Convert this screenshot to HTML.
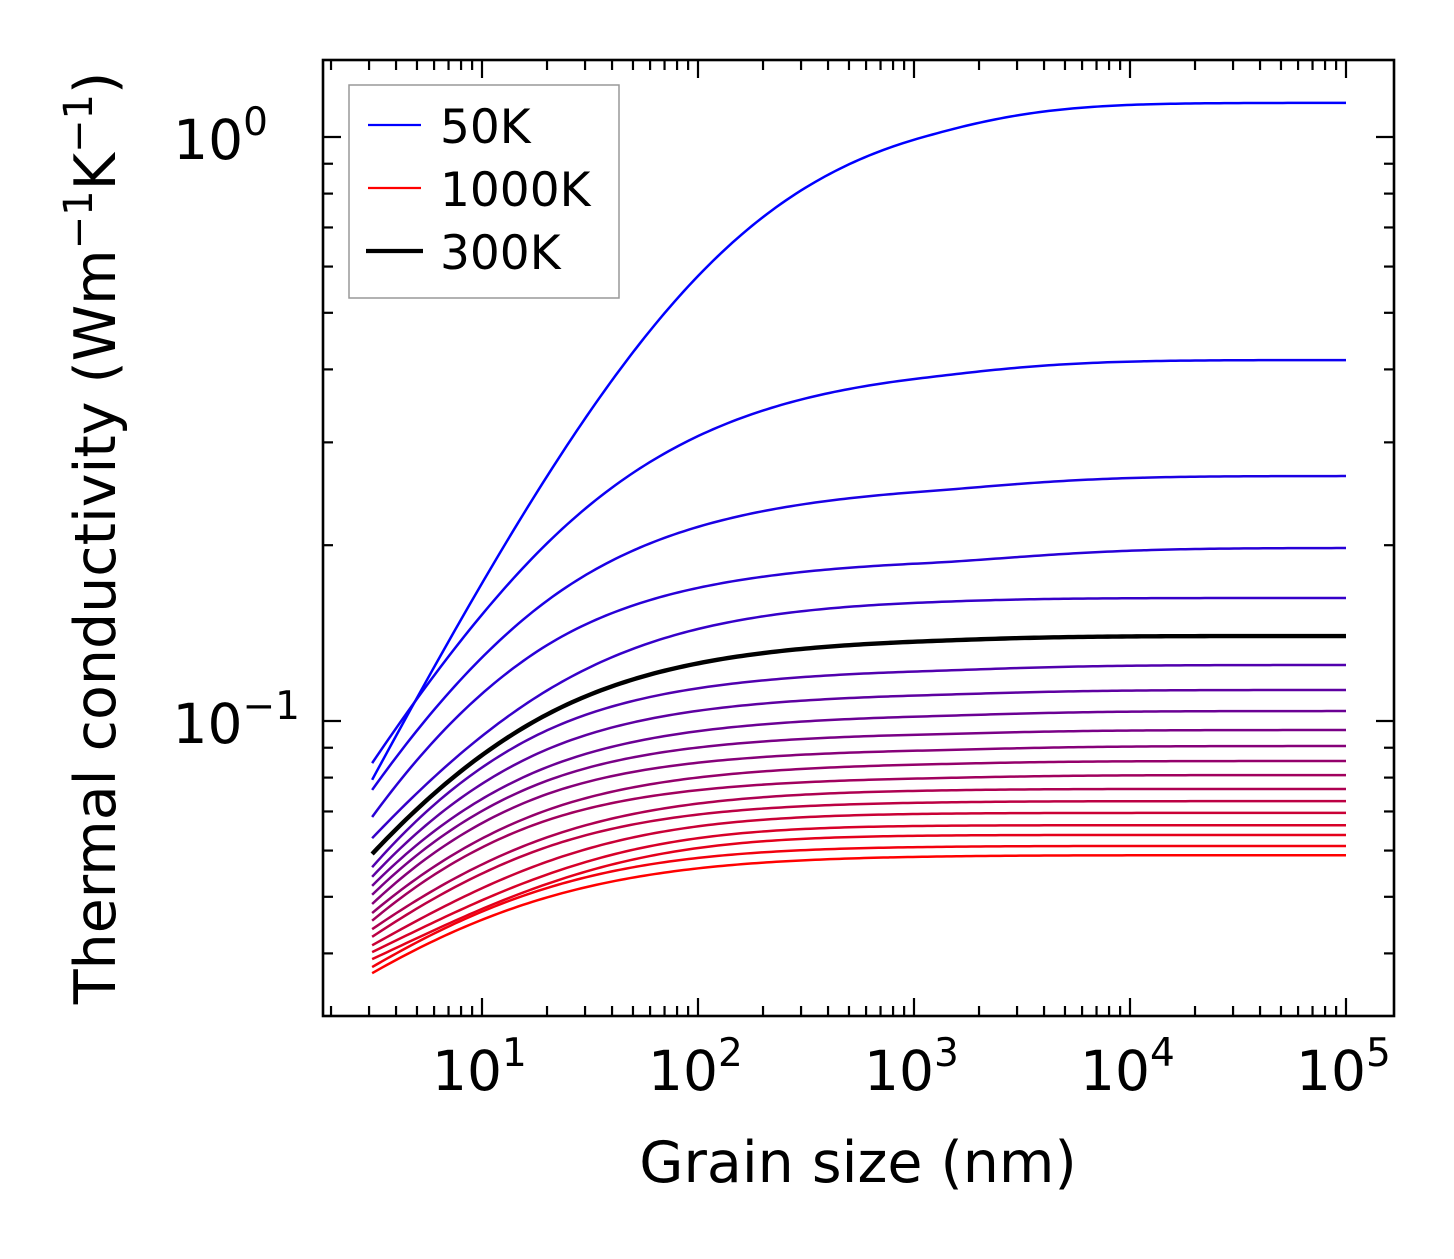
<!DOCTYPE html>
<html><head><meta charset="utf-8"><style>
body{margin:0;background:#fff}
svg text{font-family:"DejaVu Sans","Liberation Sans",sans-serif;fill:#000}
</style></head><body>
<svg id="chart" width="1454" height="1254" viewBox="0 0 1454 1254" xmlns="http://www.w3.org/2000/svg">
<rect x="0" y="0" width="1454" height="1254" fill="#fff"/>
<g id="series"></g>
<g id="axes"></g>
<g id="legend">
<rect x="349" y="85" width="270" height="213" fill="#fff" stroke="#999" stroke-width="1.5"/>
<line x1="368" y1="125" x2="421" y2="125" stroke="#0000ff" stroke-width="2.2"/>
<text x="440" y="143" font-size="47">50K</text>
<line x1="368" y1="188" x2="421" y2="188" stroke="#ff0000" stroke-width="2.2"/>
<text x="440" y="206" font-size="47">1000K</text>
<line x1="366" y1="251" x2="423" y2="251" stroke="#000" stroke-width="4.2"/>
<text x="440" y="269" font-size="47">300K</text>
</g>
<text x="858" y="1182" font-size="57" text-anchor="middle">Grain size (nm)</text>
<text transform="translate(115,538) rotate(-90)" font-size="57" text-anchor="middle">Thermal conductivity (Wm<tspan baseline-shift="super" font-size="40">−1</tspan>K<tspan baseline-shift="super" font-size="40">−1</tspan>)</text>
</svg>
<script>
const grainSizes = [3.1, 6.4, 31.6, 156, 1070, 100000];
const temperatures = [50,100,150,200,250,300,350,400,450,500,550,600,650,700,750,800,850,900,950,1000];
const k50 = [0.0793,0.1313,0.334,0.680,0.996,1.144];
const k100 = [0.0847,0.1208,0.2227,0.3382,0.3851,0.4150];
const k150 = [0.0762,0.1032,0.1676,0.2316,0.2457,0.2627];
const k200 = [0.0685,0.0903,0.1371,0.1800,0.1850,0.1978];
const k250 = [0.0630,0.0818,0.1189,0.1507,0.1593,0.1624];
const k300 = [0.0592,0.0762,0.1053,0.1313,0.1366,0.1398];
const k350 = [0.0562,0.0718,0.0973,0.1185,0.1213,0.1247];
const k400 = [0.0541,0.0677,0.0910,0.1078,0.1104,0.1130];
const k450 = [0.0522,0.0643,0.0851,0.0992,0.1016,0.1040];
const k500 = [0.0504,0.0613,0.0802,0.0928,0.0946,0.0965];
const k550 = [0.0486,0.0585,0.0756,0.0874,0.0888,0.0906];
const k600 = [0.0469,0.0560,0.0712,0.0824,0.0841,0.0854];
const k650 = [0.0455,0.0541,0.0680,0.0783,0.0796,0.0808];
const k700 = [0.0440,0.0520,0.0645,0.0741,0.0759,0.0765];
const k750 = [0.0427,0.0504,0.0613,0.0710,0.0724,0.0729];
const k800 = [0.0413,0.0488,0.0585,0.0677,0.0693,0.0696];
const k850 = [0.0402,0.0475,0.0560,0.0645,0.0661,0.0663];
const k900 = [0.0391,0.0462,0.0536,0.0621,0.0636,0.0638];
const k950 = [0.0379,0.0451,0.0518,0.0597,0.0608,0.0611];
const k1000 = [0.0370,0.0439,0.0496,0.0574,0.0585,0.0589];
const seriesValues = [k50,k100,k150,k200,k250,k300,k350,k400,k450,k500,k550,k600,k650,k700,k750,k800,k850,k900,k950,k1000];
const xTickLabels = ["1","2","3","4","5"];
const yTickLabels = ["0","−1"];
const highlightTemp = 300;

const NS = "http://www.w3.org/2000/svg";
const X0 = 323, X1 = 1394, Y0 = 60, Y1 = 1016;
function xScale(L){ return 266 + 216*Math.log10(L); }
function yScale(k){ return 137 - 584*Math.log10(k); }
function mk(tag, attrs, parent){ const e=document.createElementNS(NS,tag); for(const a in attrs) e.setAttribute(a,attrs[a]); parent.appendChild(e); return e; }

function smoothCurve(xs, vals){
  const kinf = vals[vals.length-1];
  const X=[], U=[];
  for(let i=0;i<vals.length-1;i++){
    const r = kinf/vals[i]-1;
    if(r>0){ X.push(Math.log10(xs[i])); U.push(Math.log10(r)); }
  }
  let S=[0,0,0,0,0], T=[0,0,0];
  for(let i=0;i<X.length;i++){ let p=1; for(let j=0;j<5;j++){ S[j]+=p; if(j<3) T[j]+=p*U[i]; p*=X[i]; } }
  const A=[[S[0],S[1],S[2],T[0]],[S[1],S[2],S[3],T[1]],[S[2],S[3],S[4],T[2]]];
  for(let c=0;c<3;c++){ for(let r=c+1;r<3;r++){ const f=A[r][c]/A[c][c]; for(let k=c;k<4;k++) A[r][k]-=f*A[c][k]; } }
  const co=[0,0,0];
  for(let r=2;r>=0;r--){ let s=A[r][3]; for(let k=r+1;k<3;k++) s-=A[r][k]*co[k]; co[r]=s/A[r][r]; }
  const fit = lx => co[0]+co[1]*lx+co[2]*lx*lx;
  const dfit = lx => co[1]+2*co[2]*lx;
  const r0 = U[0]-fit(X[0]);
  const span = X[1]-X[0] + 0.4;
  const xLast = X[X.length-1];
  const uLast = fit(xLast), sLast = Math.min(dfit(xLast), -0.1);
  const lx0=Math.log10(xs[0]), lx1=Math.log10(xs[xs.length-1]);
  let pts=[], umin=Infinity;
  const N=200;
  for(let i=0;i<=N;i++){
    const lx=lx0+(lx1-lx0)*i/N;
    let u;
    if(lx<=xLast) u=fit(lx);
    else { const d=lx-xLast; u = uLast + sLast*d - 0.5*d*d; }
    const w=Math.max(0,1-(lx-lx0)/span);
    u += r0*w*w;
    if(u>umin) u=umin; umin=u;
    const k=kinf/(1+Math.pow(10,u));
    pts.push([xScale(Math.pow(10,lx)), yScale(k)]);
  }
  return "M"+pts.map(p=>p[0].toFixed(2)+","+p[1].toFixed(2)).join(" L");
}

const sg=document.getElementById("series");
let blackPath=null;
seriesValues.forEach((vals,i)=>{
  const t=i/(seriesValues.length-1);
  const col="rgb("+Math.round(255*t)+",0,"+Math.round(255*(1-t))+")";
  const isHi = temperatures[i]===highlightTemp;
  const p=mk("path",{d:smoothCurve(grainSizes,vals),fill:"none",stroke:isHi?"#000":col,"stroke-width":isHi?4.4:2.5,"stroke-linejoin":"round"},sg);
  
  
  if(isHi) blackPath=p;
});
if(blackPath) sg.appendChild(blackPath);

const ag=document.getElementById("axes");
const frame=mk("rect",{x:X0,y:Y0,width:X1-X0,height:Y1-Y0,fill:"none",stroke:"#000","stroke-width":2.6},ag);


for(let d=0; d<=5; d++){
  for(let m=1;m<=9;m++){
    if(d===5 && m>1) break;
    const v=m*Math.pow(10,d);
    const x=xScale(v);
    if(x<X0+1||x>X1-1) continue;
    const len = m===1?18:10;
    const t1=mk("line",{x1:x,y1:Y1,x2:x,y2:Y1-len,stroke:"#000","stroke-width":2.2},ag);
    
    
    const t2=mk("line",{x1:x,y1:Y0,x2:x,y2:Y0+len,stroke:"#000","stroke-width":2.2},ag);
    
    
  }
}
xTickLabels.forEach((lab)=>{
  const x=xScale(Math.pow(10,+lab));
  const t=mk("text",{x:x-50,y:1090,"font-size":55},ag);
  t.innerHTML="10<tspan font-size='39' dy='-24'>"+lab+"</tspan>";
  
  
});
for(let d=-2; d<=0; d++){
  for(let m=1;m<=9;m++){
    const v=m*Math.pow(10,d);
    const y=yScale(v);
    if(y<Y0+1||y>Y1-1) continue;
    const len = m===1?18:10;
    const t1=mk("line",{x1:X0,y1:y,x2:X0+len,y2:y,stroke:"#000","stroke-width":2.2},ag);
    
    
    const t2=mk("line",{x1:X1,y1:y,x2:X1-len,y2:y,stroke:"#000","stroke-width":2.2},ag);
    
    
  }
}
yTickLabels.forEach((lab)=>{
  const e = lab==="0"?0:-1;
  const y=yScale(Math.pow(10,e));
  const t=mk("text",{x:e===0?268:300,y:y+22,"font-size":55,"text-anchor":"end"},ag);
  t.innerHTML="10<tspan font-size='39' dy='-24'>"+lab+"</tspan>";
  
  
});
</script>
</body></html>
